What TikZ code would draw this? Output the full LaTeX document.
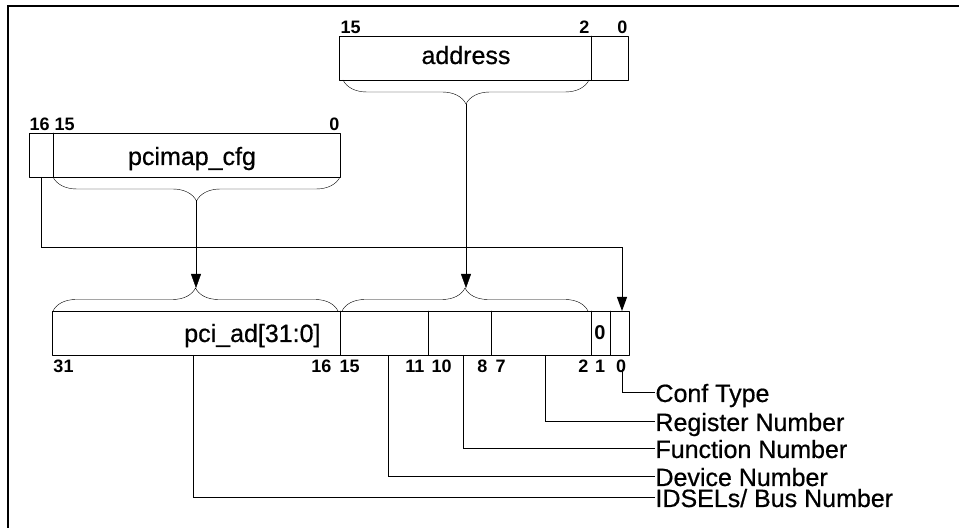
\documentclass[tikz,border=0pt]{standalone}
\usepackage{fontspec}
\setmainfont{Liberation Sans}
\newfontfamily\namefont[FakeBold=0.6]{Liberation Sans}
\usepackage{tkz-euclide}
\usetikzlibrary{decorations.pathreplacing}
\usetikzlibrary{arrows.meta}

\tikzset{
  bitno/.style={font=\bfseries\fontsize{9}{10}\selectfont, inner sep=0pt},
  regname/.style={font=\namefont\fontsize{12.5}{14}\selectfont, inner sep=0pt, anchor=base},
  fieldname/.style={font=\namefont\fontsize{12.5}{14}\selectfont, inner sep=0pt, anchor=base west},
  bracedown/.style={decorate, decoration={brace, amplitude=12pt}},
  braceup/.style={decorate, decoration={brace, amplitude=11.5pt}},
  arr/.style={-{Triangle[length=7pt,width=5pt]}},
}

\begin{document}
\begin{tikzpicture}[x=0.5pt,y=-0.5pt,line width=0.5pt]
                    \useasboundingbox (0,0) rectangle (959,528);
                    % frame
                    \tkzDefPoint(7.5,540){F1}
                    \tkzDefPoint(7.5,6){F2}
                    \tkzDefPoint(970,6){F3}
                    \draw[line width=1pt] (F1) -- (F2) -- (F3);

                    % address register
                    \tkzDefPoint(339,36){A1}
                    \tkzDefPoint(628,36){A2}
                    \tkzDefPoint(628,80){A3}
                    \tkzDefPoint(339,80){A4}
                    \tkzDefPoint(591,36){A5}
                    \tkzDefPoint(591,80){A6}
                    \tkzDrawPolygon(A1,A2,A3,A4)
                    \tkzDrawSegment(A5,A6)
                    \node[regname] (address) at (466,64) {address};
                    \node[bitno,anchor=base west] (a15) at (340,34) {15};
                    \node[bitno,anchor=base east] (a2) at (590,34) {2};
                    \node[bitno,anchor=base east] (a0) at (628,34) {0};

                    % pcimap_cfg register
                    \tkzDefPoint(29,133){M1}
                    \tkzDefPoint(340,133){M2}
                    \tkzDefPoint(340,177){M3}
                    \tkzDefPoint(29,177){M4}
                    \tkzDefPoint(53,133){M5}
                    \tkzDefPoint(53,177){M6}
                    \tkzDrawPolygon(M1,M2,M3,M4)
                    \tkzDrawSegment(M5,M6)
                    \node[regname] (pcimap) at (192,165) {pcimap\_cfg};
                    \node[bitno,anchor=base west] (m16) at (29,131) {16};
                    \node[bitno,anchor=base west] (m15) at (54,131) {15};
                    \node[bitno,anchor=base east] (m0) at (340,131) {0};

                    % pci_ad register
                    \tkzDefPoint(52,311){P1}
                    \tkzDefPoint(629,311){P2}
                    \tkzDefPoint(629,355){P3}
                    \tkzDefPoint(52,355){P4}
                    \tkzDrawPolygon(P1,P2,P3,P4)
                    \foreach \x/\n in {340/a,428/b,491/c,591/d,610/e}{
                      \tkzDefPoint(\x,311){D\n1}
                      \tkzDefPoint(\x,355){D\n2}
                      \tkzDrawSegment(D\n1,D\n2)
                    }
                    \node[regname,anchor=base east] (pciad) at (321,342) {pci\_ad[31:0]};
                    \node[bitno,font=\bfseries\fontsize{10}{11}\selectfont,anchor=base] (ctype) at (600,340) {0};
                    \node[bitno,anchor=base west] (p31) at (53,373) {31};
                    \node[bitno,anchor=base east] (p16) at (332,373) {16};
                    \node[bitno,anchor=base west] (p15) at (339,373) {15};
                    \node[bitno,anchor=base east] (p11) at (425,373) {11};
                    \node[bitno,anchor=base west] (p10) at (431,373) {10};
                    \node[bitno,anchor=base east] (p8) at (488,373) {8};
                    \node[bitno,anchor=base west] (p7) at (495,373) {7};
                    \node[bitno,anchor=base east] (p2) at (589,373) {2};
                    \node[bitno,anchor=base] (p1) at (600,373) {1};
                    \node[bitno,anchor=base] (p0) at (621,373) {0};

                    % braces
                    \tkzDefPoint(589,80){BA1}
                    \tkzDefPoint(343,80){BA2}
                    \tkzDefPoint(340,177){BM1}
                    \tkzDefPoint(53,177){BM2}
                    \tkzDefPoint(53,311){BL1}
                    \tkzDefPoint(338,311){BL2}
                    \tkzDefPoint(342,311){BR1}
                    \tkzDefPoint(588,311){BR2}
                    \tkzDrawSegment[bracedown](BA1,BA2)
                    \tkzDrawSegment[bracedown](BM1,BM2)
                    \tkzDrawSegment[braceup](BL1,BL2)
                    \tkzDrawSegment[braceup](BR1,BR2)

                    % arrows into pci_ad
                    \tkzDefPoint(466,104){T1}
                    \tkzDefPoint(466,288){T2}
                    \tkzDefPoint(196,201){T3}
                    \tkzDefPoint(196,288){T4}
                    \tkzDrawSegment[arr](T1,T2)
                    \tkzDrawSegment[arr](T3,T4)
                    \tkzDefPoint(41,177){C1}
                    \tkzDefPoint(41,248){C2}
                    \tkzDefPoint(622,248){C3}
                    \tkzDefPoint(622,311){C4}
                    \draw[arr] (C1) -- (C2) -- (C3) -- (C4);

                    % field labels
                    \foreach \x/\s/\y/\t/\n in {622/369/393/{Conf Type}/conf,
                                             545/355/422/{Register Number}/reg,
                                             463/355/449/{Function Number}/func,
                                             388/356/477/{Device Number}/dev,
                                             193/355/498/{IDSELs/ Bus Number}/idsel}{
                      \tkzDefPoint(\x,\s){L\n1}
                      \tkzDefPoint(\x,\y){L\n2}
                      \tkzDefPoint(655,\y){L\n3}
                      \node[fieldname] (\n) at ([yshift=-4.5pt]L\n3) {\t};
                      \draw (L\n1) -- (L\n2) -- (L\n3);
                    }
                \end{tikzpicture}
\end{document}
